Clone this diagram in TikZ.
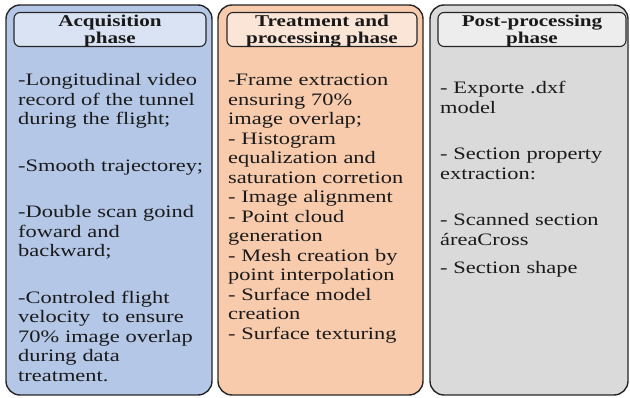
\documentclass[tikz,border=0pt]{standalone}
\usepackage{fontspec}
\setmainfont[FakeStretch=1.28]{Liberation Serif}
\usetikzlibrary{positioning}
\definecolor{acqfill}{HTML}{B4C7E7}
\definecolor{acqhead}{HTML}{DAE3F3}
\definecolor{trtfill}{HTML}{F8CBAD}
\definecolor{trthead}{HTML}{FBE5D6}
\definecolor{postfill}{HTML}{DADADA}
\definecolor{posthead}{HTML}{EDEDED}
\definecolor{ink}{HTML}{1A1A1A}
\begin{document}
\begin{tikzpicture}[x=1pt,y=-1pt,
 phase/.style={draw=black!85,line width=1.4pt,rounded corners=14pt,minimum height=390pt,inner sep=0pt},
 head/.style={draw=black!85,line width=1.1pt,rounded corners=6pt,minimum height=34pt,inner sep=0pt,align=center,text=ink,
  text depth=0pt,font=\fontsize{16.5}{16.5}\selectfont\bfseries},
 body/.style={anchor=base west,inner sep=0pt,text width=195pt,align=left,text=ink,
  font=\fontsize{17.5}{19.5}\selectfont}]
\useasboundingbox (0,0) rectangle (630,398);
% phase boxes
\node[phase,fill=acqfill,minimum width=206pt] (acq) at (109,200) {};
\node[phase,fill=trtfill,minimum width=205pt] (trt) at (320.5,200) {};
\node[phase,fill=postfill,minimum width=198pt] (post) at (529,200) {};
% titles
\node[head,fill=acqhead,minimum width=192pt] (acqtitle) at (110,29.5) {Acquisition\\phase};
\node[head,fill=trthead,minimum width=190pt] (trttitle) at (322,29.5) {Treatment and\\processing phase};
\node[head,fill=posthead,minimum width=188pt] (posttitle) at (532,29.5) {Post-processing\\phase};
% contents
\node[body] (acqtext) at (18,86) {-Longitudinal video\\record of the tunnel\\during the flight;\\[27pt]
 -Smooth trajectorey;\\[27pt]
 -Double scan goind\\foward and\\backward;\\[27pt]
 -Controled flight\\velocity\ \ to ensure\\70\% image overlap\\during data\\treatment.};
\node[body] (trttext) at (228,86) {-Frame extraction\\ensuring 70\%\\image overlap;\\- Histogram\\equalization and\\saturation corretion\\
 - Image alignment\\- Point cloud\\generation\\- Mesh creation by\\point interpolation\\- Surface model\\creation\\- Surface texturing};
\node[body] (posttext) at (440,94) {- Exporte .dxf\\model\\[27pt]
 - Section property\\extraction:\\[27pt]
 - Scanned section\\áreaCross\\[8.5pt]
 - Section shape};
\end{tikzpicture}
\end{document}
